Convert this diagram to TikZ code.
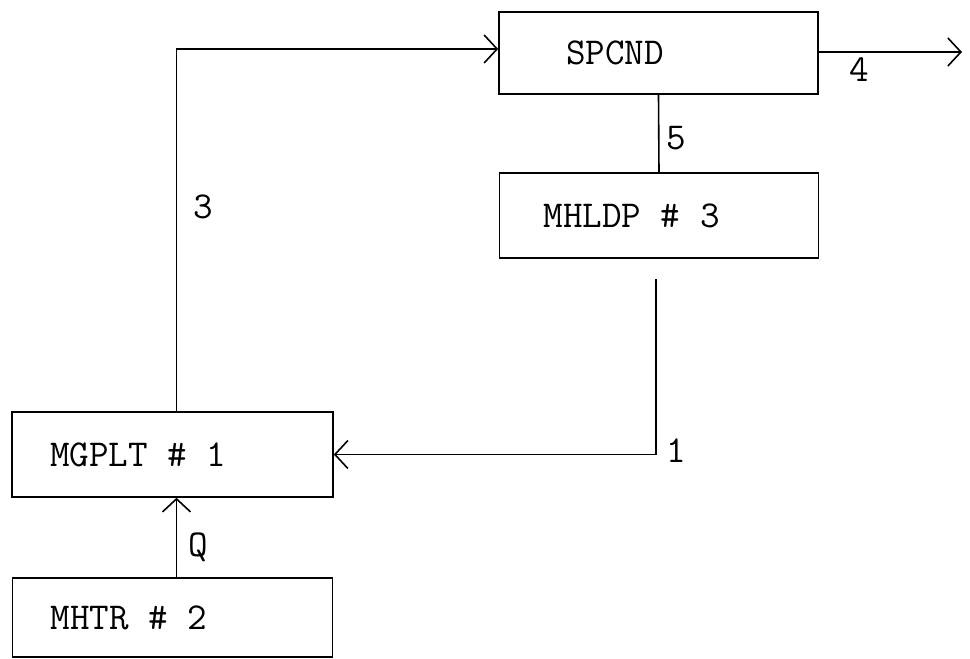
\documentclass[tikz,border=0pt]{standalone}
\usepackage{fontspec}
\usetikzlibrary{arrows.meta}
\begin{document}
\begin{tikzpicture}[x=1pt,y=-1pt,
  every node/.style={font=\ttfamily\fontsize{38}{40}\selectfont},
  blk/.style={draw, line width=1.6pt, inner ysep=0pt, anchor=center},
  conn/.style={line width=1.6pt},
  arr/.style={conn, -{Straight Barb[length=13pt,width=28pt,line width=1.6pt]}},
  lbl/.style={inner sep=0pt, anchor=center}]
\useasboundingbox (0,0) rectangle (970,659);
\node[blk, minimum height=82pt, inner xsep=67pt] (spcnd) at (658.5,53) {\makebox[185pt][l]{SPCND}};
\node[blk, minimum height=85pt, inner xsep=44pt] (mhldp) at (659,215.5) {\makebox[231pt][l]{MHLDP \# 3}};
\node[blk, minimum height=85pt, inner xsep=38pt] (mgplt) at (172.5,454.5) {\makebox[245pt][l]{MGPLT \# 1}};
\node[blk, minimum height=79pt, inner xsep=38pt] (mhtr) at (172.5,617.5) {\makebox[244pt][l]{MHTR \# 2}};
\coordinate (out4) at (962,52);
% connectors
\draw[arr] ([xshift=4pt]mgplt.north) |- ([yshift=4pt]spcnd.west);
\draw[arr] ([yshift=1pt]spcnd.east) -- (out4);
\draw[conn] (spcnd.south) -- (mhldp.south |- mhldp.north);
\draw[arr, shorten <=20pt] ([xshift=-3pt]mhldp.south) |- (mgplt.east);
\draw[arr] ([xshift=4pt]mhtr.north) -- ([xshift=4pt]mgplt.south);
% labels
\node[lbl] (l3) at (203,207) {3};
\node[lbl] (l4) at (859,70) {4};
\node[lbl] (l5) at (676,138) {5};
\node[lbl] (l1) at (676,451) {1};
\node[lbl] (lq) at (198,547) {Q};
\end{tikzpicture}
\end{document}
